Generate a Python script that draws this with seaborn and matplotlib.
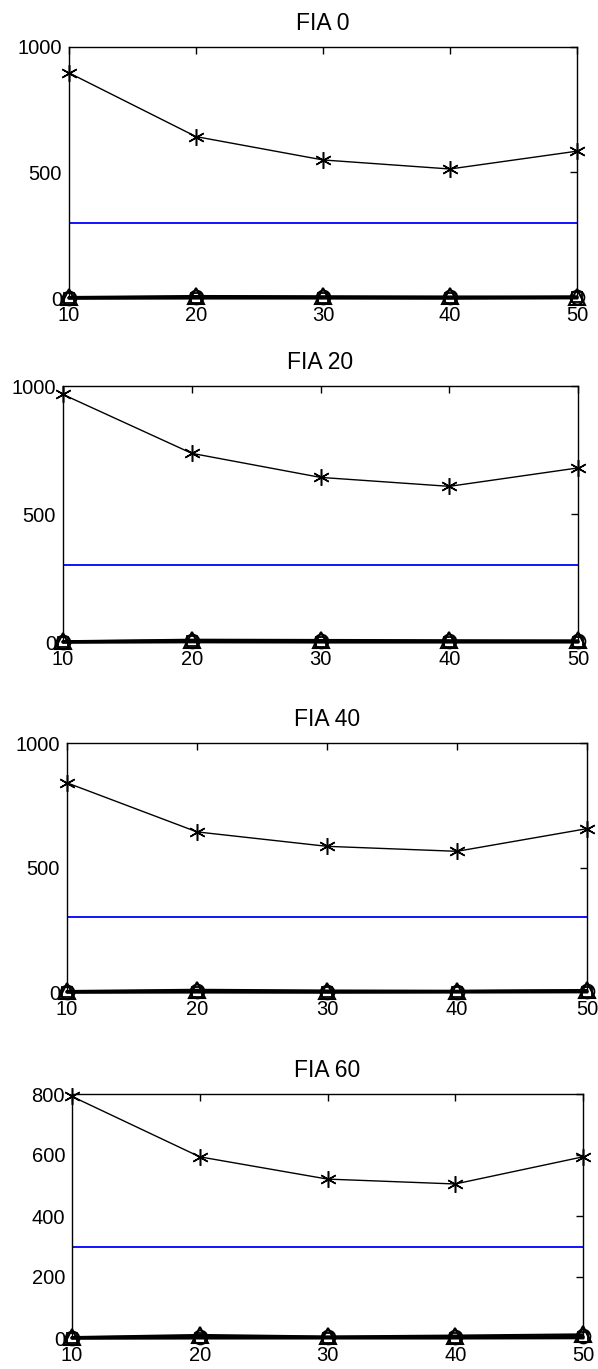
import numpy as np
import pandas as pd
import matplotlib
matplotlib.use("Agg")
import matplotlib.pyplot as plt
import seaborn as sns


x = [10, 20, 30, 40, 50]
titulos = ["FIA 0", "FIA 20", "FIA 40", "FIA 60"]

# serie principal (asteriscos)
star_0 = [897, 643, 550, 514, 585]
star_20 = [967, 737, 643, 608, 680]
star_40 = [840, 643, 585, 565, 656]
star_60 = [792, 594, 521, 505, 594]

# limite horizontal (azul)
limite = [300, 300, 300, 300, 300]

# series casi cero
tri_0 = [4, 8, 7, 6, 5]
tri_20 = [3, 9, 8, 7, 6]
tri_40 = [4, 9, 6, 5, 8]
tri_60 = [3, 10, 5, 8, 12]
circ_0 = [1, 3, 2, 2, 4]
circ_20 = [1, 4, 3, 2, 3]
circ_40 = [1, 3, 2, 2, 4]
circ_60 = [1, 4, 2, 3, 5]
sq_0 = [0, 1, 1, 0, 2]
sq_20 = [0, 2, 1, 1, 1]
sq_40 = [0, 1, 0, 1, 2]
sq_60 = [0, 1, 1, 1, 2]

stars = [star_0, star_20, star_40, star_60]
tris = [tri_0, tri_20, tri_40, tri_60]
circs = [circ_0, circ_20, circ_40, circ_60]
sqs = [sq_0, sq_20, sq_40, sq_60]
ylims = [1000, 1000, 1000, 800]
yticks = [[0, 500, 1000], [0, 500, 1000], [0, 500, 1000], [0, 200, 400, 600, 800]]

sns.set_style("white")
plt.rcParams["font.family"] = ["Liberation Sans", "DejaVu Sans"]
plt.rcParams["text.color"] = "black"
plt.rcParams["xtick.color"] = "black"
plt.rcParams["ytick.color"] = "black"

W, H = 598, 1369
# (izq, arriba, der, abajo) en pixeles
cajas = [(69, 47, 577, 298), (63, 386, 578, 642), (67, 743, 587, 992), (72, 1094, 583, 1338)]

fig = plt.figure(figsize=(W / 100, H / 100), dpi=100)

asterisco = (6, 2, 0)

for i in range(4):
    l, t, r, b = cajas[i]
    ax = fig.add_axes([l / W, 1 - b / H, (r - l) / W, (b - t) / H])

    sns.lineplot(x=x, y=sqs[i], ax=ax, color="black", lw=2.5, marker="s", markersize=7,
                 markerfacecolor="none", markeredgecolor="black", markeredgewidth=1.3, clip_on=False)
    sns.lineplot(x=x, y=circs[i], ax=ax, color="black", lw=2.2, marker="o", markersize=10,
                 markerfacecolor="none", markeredgecolor="black", markeredgewidth=1.3, clip_on=False)
    sns.lineplot(x=x, y=tris[i], ax=ax, color="black", lw=1.5, marker="^", markersize=11,
                 markerfacecolor="none", markeredgecolor="black", markeredgewidth=1.5, clip_on=False)
    sns.lineplot(x=x, y=limite, ax=ax, color="#0000ff", lw=1.3)
    sns.lineplot(x=x, y=stars[i], ax=ax, color="black", lw=1, marker=asterisco, markersize=12,
                 markeredgecolor="black", markeredgewidth=1.1, clip_on=False)

    ax.set_xlim(10, 50)
    ax.set_ylim(0, ylims[i])
    ax.set_xticks(x)
    ax.set_yticks(yticks[i])
    ax.set_xlabel("")
    ax.set_ylabel("")
    ax.tick_params(direction="in", top=True, right=True, length=5, width=1,
                   labelsize=14.5, colors="black")
    ax.tick_params(axis="x", pad=6)
    ax.tick_params(axis="y", pad=5)
    for s in ax.spines.values():
        s.set_color("black")
        s.set_linewidth(1)
    ax.set_title(titulos[i], fontsize=16.5, pad=12, color="black")

plt.savefig("out.png", dpi=100)
